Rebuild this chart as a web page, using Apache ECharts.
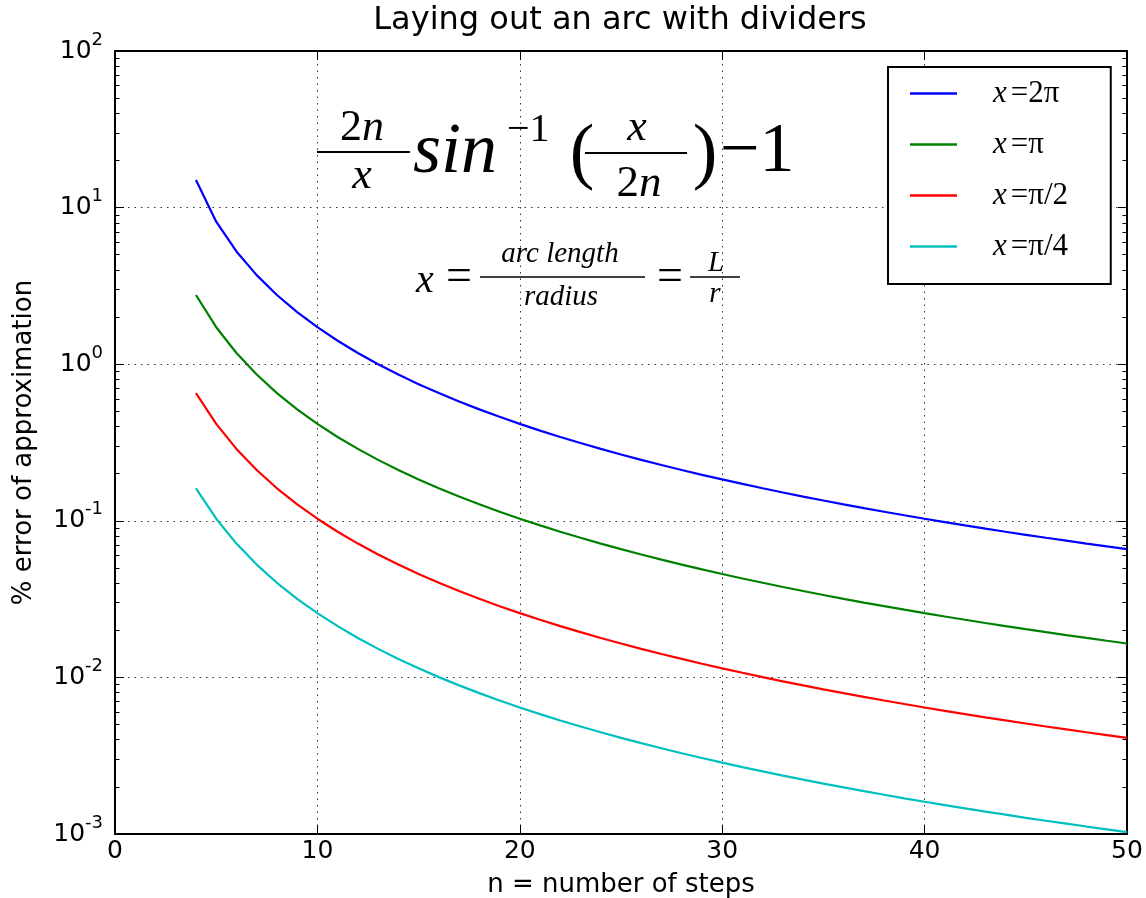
<!DOCTYPE html>
<html><head><meta charset="utf-8">
<script src="https://cdn.jsdelivr.net/npm/echarts@6/dist/echarts.min.js"></script>
<style>html,body{margin:0;padding:0;background:#fff}#c{width:1146px;height:898px}</style>
</head><body><div id="c"></div>
<script>
// ---- data ----
const steps = [4,5,6,7,8,9,10,11,12,13,14,15,16,17,18,19,20,21,22,23,24,25,26,27,28,29,30,31,32,33,34,35,36,37,38,39,40,41,42,43,44,45,46,47,48,49,50];
const seriesNames = ['x=2π', 'x=π', 'x=π/2', 'x=π/4'];
const seriesColors = ['#0000ff', '#008000', '#ff0000', '#00bfbf'];
const err2pi = [15.02,8.129,5.247,3.704,2.767,2.151,1.723,1.412,1.179,0.9998,0.8588,0.7459,0.6540,0.5781,0.5148,0.4614,0.4159,0.3768,0.3430,0.3136,0.2878,0.2651,0.2449,0.2270,0.2110,0.1966,0.1837,0.1720,0.1613,0.1517,0.1428,0.1348,0.1274,0.1205,0.1143,0.1085,0.1031,0.09811,0.09349,0.08918,0.08516,0.08141,0.07790,0.07462,0.07153,0.06864,0.06591];
const errPi = [2.767,1.723,1.179,0.8588,0.6540,0.5148,0.4159,0.3430,0.2878,0.2449,0.2110,0.1837,0.1613,0.1428,0.1274,0.1143,0.1031,0.09349,0.08516,0.07790,0.07153,0.06591,0.06093,0.05650,0.05253,0.04896,0.04575,0.04284,0.04020,0.03780,0.03561,0.03360,0.03176,0.03006,0.02850,0.02706,0.02572,0.02448,0.02333,0.02225,0.02125,0.02032,0.01945,0.01863,0.01786,0.01714,0.01646];
const errPi2 = [0.6540,0.4159,0.2878,0.2110,0.1613,0.1274,0.1031,0.08516,0.07153,0.06093,0.05253,0.04575,0.04020,0.03561,0.03176,0.02850,0.02572,0.02333,0.02125,0.01945,0.01786,0.01646,0.01521,0.01411,0.01312,0.01223,0.01143,0.01070,0.01004,0.009443,0.008896,0.008394,0.007934,0.007511,0.007121,0.006760,0.006427,0.006117,0.005829,0.005561,0.005311,0.005078,0.004859,0.004655,0.004463,0.004282,0.004113];
const errPi4 = [0.1613,0.1031,0.07153,0.05253,0.04020,0.03176,0.02572,0.02125,0.01786,0.01521,0.01312,0.01143,0.01004,0.008896,0.007934,0.007121,0.006427,0.005829,0.005311,0.004859,0.004463,0.004113,0.003803,0.003526,0.003279,0.003056,0.002856,0.002675,0.002510,0.002360,0.002224,0.002098,0.001983,0.001878,0.001780,0.001690,0.001606,0.001529,0.001457,0.001390,0.001328,0.001269,0.001215,0.001164,0.001116,0.001071,0.001028];
const xTicks = [0, 10, 20, 30, 40, 50];
const yDecades = [0.001, 0.01, 0.1, 1, 10, 100];
const minorMultipliers = [2,3,4,5,6,7,8,9];

// ---- build ----
const allSeries = [err2pi, errPi, errPi2, errPi4];
const yMin = yDecades[0], yMax = yDecades[yDecades.length - 1];
const xMin = xTicks[0], xMax = xTicks[xTicks.length - 1];
// minor tick positions for an auxiliary linear axis spanning log10(yMin)..log10(yMax)
const logMin = Math.log10(yMin), logMax = Math.log10(yMax);
const minorLogVals = [];
yDecades.slice(0, -1).forEach(d => minorMultipliers.forEach(m => minorLogVals.push(Math.log10(m * d))));

const SANS = 'DejaVu Sans';
const SERIF = 'Liberation Serif';

function yFmt(v) {
  const e = Math.round(Math.log10(v));
  return '{b|10}{s|' + e + '}';
}
const baseAxisY = { type: 'log', logBase: 10, min: yMin, max: yMax };
const minorAxisY = { type: 'value', min: logMin, max: logMax };

const chart = echarts.init(document.getElementById('c'));
function txt(text, x, y, size, italic, align) {
  return { type: 'text', x: x, y: y, z: 100,
    style: { text: text, fontSize: size, fontFamily: SERIF, fontStyle: italic ? 'italic' : 'normal',
      fill: '#000', align: align || 'center', verticalAlign: 'middle' } };
}
function rtxt(parts, x, y, size) {
  const rich = { r: { fontFamily: SERIF, fontSize: size, fill: '#000' }, i: { fontFamily: SERIF, fontSize: size, fontStyle: 'italic', fill: '#000' } };
  return { type: 'text', x: x, y: y, z: 100,
    style: { text: parts.map(p => '{' + (p[1] ? 'i' : 'r') + '|' + p[0] + '}').join(''), rich: rich,
      fontSize: size, fontFamily: SERIF, fill: '#000', align: 'center', verticalAlign: 'middle' } };
}
function bar(x1, x2, y, w) {
  return { type: 'line', z: 100, shape: { x1: x1, y1: y, x2: x2, y2: y }, style: { stroke: '#000', lineWidth: w } };
}
const graphic = [
  rtxt([['2', false], ['n', true]], 362, 128, 44),
  bar(317, 410, 152, 2),
  txt('x', 362, 176, 44, true),
  txt('sin', 413, 153, 72, true, 'left'),
  txt('\u22121', 507, 130, 40, false, 'left'),
  txt('(', 582, 156, 74, false),
  txt('x', 637, 128, 44, true),
  bar(585, 687, 153, 2),
  rtxt([['2', false], ['n', true]], 639, 184, 45),
  txt(')', 705, 156, 74, false),
  txt('\u22121', 720, 153, 70, false, 'left'),
  txt('x', 425, 281, 40, true),
  txt('=', 459, 278, 46, false),
  bar(480, 645, 277, 1.5),
  txt('arc length', 560, 254, 29, true),
  txt('radius', 561, 297, 29, true),
  txt('=', 670, 278, 46, false),
  bar(690, 740, 277, 1.5),
  txt('L', 716, 263, 29, true),
  txt('r', 715, 294, 29, true)
];

const frameLine = { show: true, onZero: false, lineStyle: { color: '#000', width: 2 } };
const option = {
  animation: false,
  backgroundColor: '#fff',
  title: { text: 'Laying out an arc with dividers', left: 620, textAlign: 'center', top: 5, padding: 0,
    textStyle: { fontFamily: SANS, fontSize: 32, fontWeight: 'normal', color: '#000' } },
  grid: { left: 115, right: 19, top: 51, bottom: 64, containLabel: false, outerBoundsMode: 'none' },
  legend: {
    orient: 'vertical', left: 888, top: 67, icon: 'rect', itemWidth: 47, itemHeight: 2.5, itemGap: 20,
    padding: [11, 25, 22, 22], borderColor: '#000', borderWidth: 2, backgroundColor: '#fff', borderRadius: 0,
    data: seriesNames,
    formatter: name => '{x|x}{r|' + name.slice(1) + '}',
    textStyle: { rich: {
      x: { fontFamily: SERIF, fontStyle: 'italic', fontSize: 31, lineHeight: 36, padding: [0, 4, 0, 31], color: '#000' },
      r: { fontFamily: SERIF, fontSize: 31, lineHeight: 36, width: 75, color: '#000' }
    } }
  },
  xAxis: [
    { type: 'value', min: xMin, max: xMax, interval: 10, position: 'bottom',
      axisLine: frameLine,
      axisTick: { show: true, inside: true, length: 9, lineStyle: { color: '#000', width: 1 } },
      axisLabel: { fontFamily: SANS, fontSize: 25, color: '#000', margin: 5 },
      splitLine: { show: true, lineStyle: { type: [1.5, 5], color: '#333', width: 1 } },
      name: 'n = number of steps', nameLocation: 'middle', nameGap: 38,
      nameTextStyle: { fontFamily: SANS, fontSize: 26, color: '#000' } },
    { type: 'value', min: xMin, max: xMax, interval: 10, position: 'top',
      axisLine: frameLine,
      axisTick: { show: true, inside: true, length: 9, lineStyle: { color: '#000', width: 1 } },
      axisLabel: { show: false }, splitLine: { show: false } }
  ],
  yAxis: [
    Object.assign({}, baseAxisY, { position: 'left',
      axisLine: frameLine,
      axisTick: { show: true, inside: true, length: 9, lineStyle: { color: '#000', width: 1 } },
      axisLabel: { formatter: yFmt, margin: 12, color: '#000', fontFamily: SANS, fontSize: 25,
        rich: { b: { fontFamily: SANS, fontSize: 25, lineHeight: 30, color: '#000' },
                s: { fontFamily: SANS, fontSize: 18, lineHeight: 20, padding: [0, 0, 22, 0], color: '#000' } } },
      splitLine: { show: true, lineStyle: { type: [1.5, 5], color: '#333', width: 1 } },
      name: '% error of approximation', nameLocation: 'middle', nameGap: 78,
      nameTextStyle: { fontFamily: SANS, fontSize: 26, color: '#000' } }),
    Object.assign({}, baseAxisY, { position: 'right',
      axisLine: frameLine,
      axisTick: { show: true, inside: true, length: 9, lineStyle: { color: '#000', width: 1 } },
      axisLabel: { show: false }, splitLine: { show: false } }),
    Object.assign({}, minorAxisY, { position: 'right',
      axisLine: { show: false, onZero: false },
      axisTick: { show: true, inside: true, length: 4.5, customValues: minorLogVals, lineStyle: { color: '#000', width: 1 } },
      axisLabel: { show: false }, splitLine: { show: false } }),
    Object.assign({}, minorAxisY, { position: 'left',
      axisLine: { show: false, onZero: false },
      axisTick: { show: true, inside: true, length: 4.5, customValues: minorLogVals, lineStyle: { color: '#000', width: 1 } },
      axisLabel: { show: false }, splitLine: { show: false } })
  ],
  series: allSeries.map((vals, i) => ({
    name: seriesNames[i], type: 'line', xAxisIndex: 0, yAxisIndex: 0,
    showSymbol: false, symbol: 'none', clip: true,
    lineStyle: { color: seriesColors[i], width: 2.2 }, itemStyle: { color: seriesColors[i] },
    data: steps.map((n, j) => [n, vals[j]])
  })),
  graphic: graphic
};
chart.setOption(option);
</script></body></html>
